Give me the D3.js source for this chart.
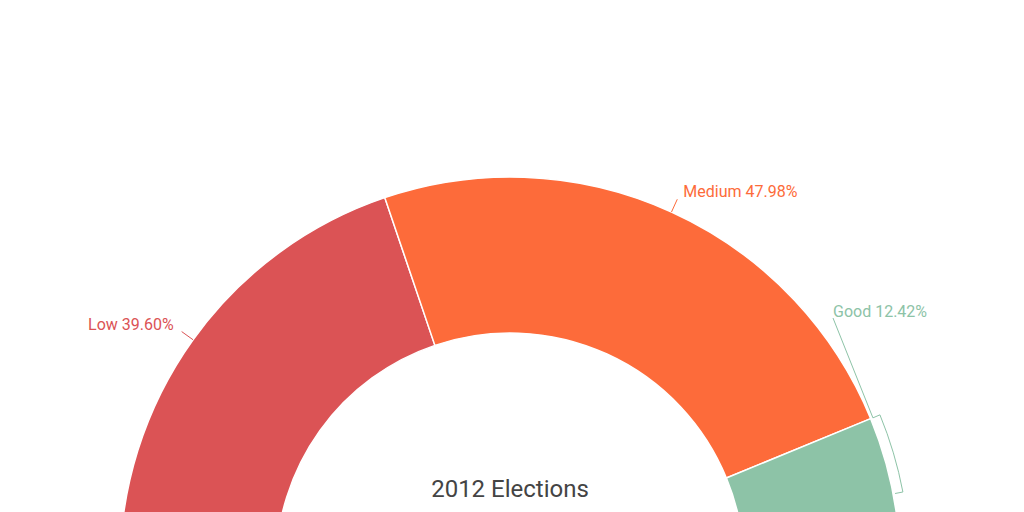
<!DOCTYPE html>
<html><head><meta charset="utf-8">
<script src="https://cdn.jsdelivr.net/npm/d3@7"></script>
<style>body{margin:0;background:#fff}svg{font-family:Roboto,sans-serif}</style>
</head><body><div id="chart"></div>
<script>
var categories = ["Low", "Medium", "Good"];
var values = [39.60, 47.98, 12.42];
var colors = ["#db5355", "#fd6b3a", "#8dc3a7"];

var w = 1024, h = 512;
var cx = 510, cy = 567, outer = 390, inner = 234;

var svg = d3.select("#chart").append("svg").attr("width", w).attr("height", h);
var g = svg.append("g").attr("transform", "translate(" + cx + "," + cy + ")");

var data = categories.map(function (c, i) { return {name: c, value: values[i], color: colors[i]}; });
var pie = d3.pie().sort(null).value(function (d) { return d.value; })
    .startAngle(-Math.PI / 2).endAngle(Math.PI / 2);
var arcs = pie(data);
var arc = d3.arc().innerRadius(inner).outerRadius(outer);

g.selectAll("path.slice").data(arcs).enter().append("path")
    .attr("class", "slice")
    .attr("d", arc)
    .attr("fill", function (d) { return d.data.color; })
    .attr("stroke", "#fff").attr("stroke-width", 1.5);

function pt(r, a) { return [r * Math.sin(a), -r * Math.cos(a)]; }

// labels
var lab = [
    {dx: -8, anchor: "end"},
    {dx: 6, anchor: "start"},
    {dx: 0, anchor: "start"}
];
arcs.forEach(function (d, i) {
    var txt = d.data.name + " " + d.data.value.toFixed(2) + "%";
    if (i < 2) {
        var mid = (d.startAngle + d.endAngle) / 2;
        var p0 = pt(outer, mid), p1 = pt(outer + 14, mid);
        g.append("line").attr("x1", p0[0]).attr("y1", p0[1]).attr("x2", p1[0]).attr("y2", p1[1])
            .attr("stroke", d.data.color).attr("stroke-width", 1);
        g.append("text").attr("x", p1[0] + lab[i].dx).attr("y", p1[1] - 2)
            .attr("text-anchor", lab[i].anchor).attr("fill", d.data.color)
            .attr("font-size", 16).text(txt);
    } else {
        var r = outer + 10;
        var a0 = d.startAngle, a1 = Math.acos((cy - 492) / r);
        var s = pt(r, a0), e = pt(r, a1);
        var path = d3.path();
        path.moveTo(s[0] - 7, s[1] + 3);
        path.lineTo(s[0], s[1]);
        path.arc(0, 0, r, a0 - Math.PI / 2, a1 - Math.PI / 2);
        var ei = pt(r - 8, a1);
        path.lineTo(ei[0], ei[1]);
        g.append("path").attr("d", path.toString()).attr("fill", "none")
            .attr("stroke", d.data.color).attr("stroke-width", 1);
        g.append("line").attr("x1", s[0] - 7).attr("y1", s[1] + 3).attr("x2", 833 - cx).attr("y2", 318 - cy)
            .attr("stroke", d.data.color).attr("stroke-width", 1);
        g.append("text").attr("x", 833 - cx).attr("y", 317 - cy)
            .attr("fill", d.data.color).attr("font-size", 16).text(txt);
    }
});

svg.append("text").attr("x", cx).attr("y", 497).attr("text-anchor", "middle")
    .attr("fill", "#444").attr("font-size", 24).text("2012 Elections");
</script></body></html>
